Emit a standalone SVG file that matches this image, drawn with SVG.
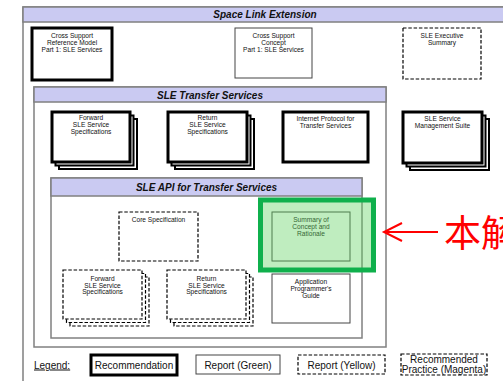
<svg xmlns="http://www.w3.org/2000/svg" width="503" height="381" viewBox="0 0 503 381">
<style>
.cont{fill:#fff;stroke:#808080;stroke-width:1.5}
.hdr{fill:#cacaf2;stroke:#808080;stroke-width:1.5}
.thick{fill:#fff;stroke:#000;stroke-width:3}
.thickb{fill:#fff;stroke:#000;stroke-width:2}
.thin{fill:#fff;stroke:#444;stroke-width:1}
.dash{fill:#fff;stroke:#000;stroke-width:1.2;stroke-dasharray:3.5 1.8}
.t{font-family:"Liberation Sans",Arial,sans-serif;font-size:6.6px;text-anchor:middle;fill:#111}
.h{font-family:"Liberation Sans",Arial,sans-serif;font-size:10px;font-weight:bold;font-style:italic;text-anchor:middle;fill:#111}
.lg{font-family:"Liberation Sans",Arial,sans-serif;font-size:10px;text-anchor:middle;fill:#111}
</style>
<rect width="503" height="381" fill="#fff"/>

<g id="space-link-extension">
<rect class="cont" x="23" y="7" width="484" height="390"/>
<rect class="hdr" x="23" y="7" width="484" height="15"/>
<text class="h" x="265" y="18">Space Link Extension</text>
</g>

<g id="cross-support-reference-model">
<rect class="thick" x="32" y="28" width="80" height="52"/>
<text class="t" x="72" y="37.5">Cross Support</text>
<text class="t" x="72" y="44.5">Reference Model</text>
<text class="t" x="72" y="51.5">Part 1: SLE Services</text>
</g>

<g id="cross-support-concept">
<rect class="thin" x="235" y="28" width="77" height="50"/>
<text class="t" x="273.5" y="37.5">Cross Support</text>
<text class="t" x="273.5" y="44.5">Concept</text>
<text class="t" x="273.5" y="51.5">Part 1: SLE Services</text>
</g>

<g id="sle-executive-summary">
<rect class="dash" x="403" y="28" width="78" height="51"/>
<text class="t" x="442" y="37.5">SLE Executive</text>
<text class="t" x="442" y="44.5">Summary</text>
</g>

<g id="sle-transfer-services">
<rect class="cont" x="34" y="87" width="352" height="260"/>
<rect class="hdr" x="34" y="87" width="352" height="15"/>
<text class="h" x="210" y="98.5">SLE Transfer Services</text>
</g>

<g id="forward-sle-service-specifications">
<rect class="thickb" x="59" y="119" width="78" height="50"/>
<rect class="thickb" x="55.5" y="115.5" width="78" height="50"/>
<rect class="thick" x="52" y="112" width="78" height="50"/>
<text class="t" x="91" y="120">Forward</text>
<text class="t" x="91" y="127">SLE Service</text>
<text class="t" x="91" y="134">Specifications</text>
</g>

<g id="return-sle-service-specifications">
<rect class="thickb" x="175" y="119" width="79" height="50"/>
<rect class="thickb" x="171.5" y="115.5" width="79" height="50"/>
<rect class="thick" x="168" y="112" width="79" height="50"/>
<text class="t" x="207.5" y="120">Return</text>
<text class="t" x="207.5" y="127">SLE Service</text>
<text class="t" x="207.5" y="134">Specifications</text>
</g>

<g id="internet-protocol-for-transfer-services">
<rect class="thick" x="283" y="112" width="85" height="50"/>
<text class="t" x="325.5" y="120.5">Internet Protocol for</text>
<text class="t" x="325.5" y="127.5">Transfer Services</text>
</g>

<g id="sle-service-management-suite">
<rect class="thickb" x="410" y="119" width="79" height="51"/>
<rect class="thickb" x="406.5" y="115.5" width="79" height="51"/>
<rect class="thick" x="403" y="112" width="79" height="51"/>
<text class="t" x="442.5" y="120.5">SLE Service</text>
<text class="t" x="442.5" y="127.5">Management Suite</text>
</g>

<g id="sle-api-for-transfer-services">
<rect class="cont" x="51" y="178" width="311" height="160"/>
<rect class="hdr" x="51" y="178" width="311" height="18"/>
<text class="h" x="206.5" y="190.5">SLE API for Transfer Services</text>
</g>

<g id="core-specification">
<rect class="dash" x="119" y="212" width="79" height="49"/>
<text class="t" x="158.5" y="221.5">Core Specification</text>
</g>

<g id="api-forward-sle-service-specifications">
<rect class="dash" x="70" y="277" width="79" height="49"/>
<rect class="dash" x="66.5" y="273.5" width="79" height="49"/>
<rect class="dash" x="63" y="270" width="79" height="49"/>
<text class="t" x="102.5" y="281">Forward</text>
<text class="t" x="102.5" y="287.5">SLE Service</text>
<text class="t" x="102.5" y="294">Specifications</text>
</g>

<g id="api-return-sle-service-specifications">
<rect class="dash" x="174" y="277" width="79" height="49"/>
<rect class="dash" x="170.5" y="273.5" width="79" height="49"/>
<rect class="dash" x="167" y="270" width="79" height="49"/>
<text class="t" x="206.5" y="281">Return</text>
<text class="t" x="206.5" y="287.5">SLE Service</text>
<text class="t" x="206.5" y="294">Specifications</text>
</g>

<g id="application-programmers-guide">
<rect class="thin" x="272" y="274" width="78" height="49"/>
<text class="t" x="311" y="284">Application</text>
<text class="t" x="311" y="291">Programmer's</text>
<text class="t" x="311" y="298">Guide</text>
</g>

<g id="summary-of-concept-and-rationale">
<rect class="thin" x="272" y="212" width="78" height="49"/>
<text class="t" x="311" y="222">Summary of</text>
<text class="t" x="311" y="229">Concept and</text>
<text class="t" x="311" y="236">Rationale</text>
<rect x="260.5" y="200" width="113" height="70" fill="#5fd25f" fill-opacity="0.4" stroke="#0fb04c" stroke-width="5"/>
</g>

<g id="connectors">
<line x1="385" y1="232" x2="438" y2="232" stroke="#ff0000" stroke-width="2"/>
<polyline points="402,223 384,232 402,241" fill="none" stroke="#ff0000" stroke-width="2"/>
</g>

<g id="annotation">
<text x="444" y="247" font-family="'Noto Sans CJK SC','Noto Sans CJK JP',sans-serif" font-size="37" fill="#ff0000">本解</text>
</g>

<g id="legend">
<text x="34" y="368.5" font-family="'Liberation Sans',Arial,sans-serif" font-size="10" fill="#111" text-decoration="underline">Legend:</text>
<rect class="thick" x="91" y="355" width="86" height="20"/>
<text class="lg" x="134" y="368.5">Recommendation</text>
<rect class="thin" x="196" y="355" width="84" height="19"/>
<text class="lg" x="238" y="368.5">Report (Green)</text>
<rect class="dash" x="298" y="355" width="87" height="19"/>
<text class="lg" x="341.5" y="368.5">Report (Yellow)</text>
<rect class="dash" x="401" y="354" width="86" height="21"/>
<text class="lg" x="444" y="362.5" font-size="8.5">Recommended</text>
<text class="lg" x="444" y="372.5" font-size="8.5">Practice (Magenta)</text>
</g>
</svg>
